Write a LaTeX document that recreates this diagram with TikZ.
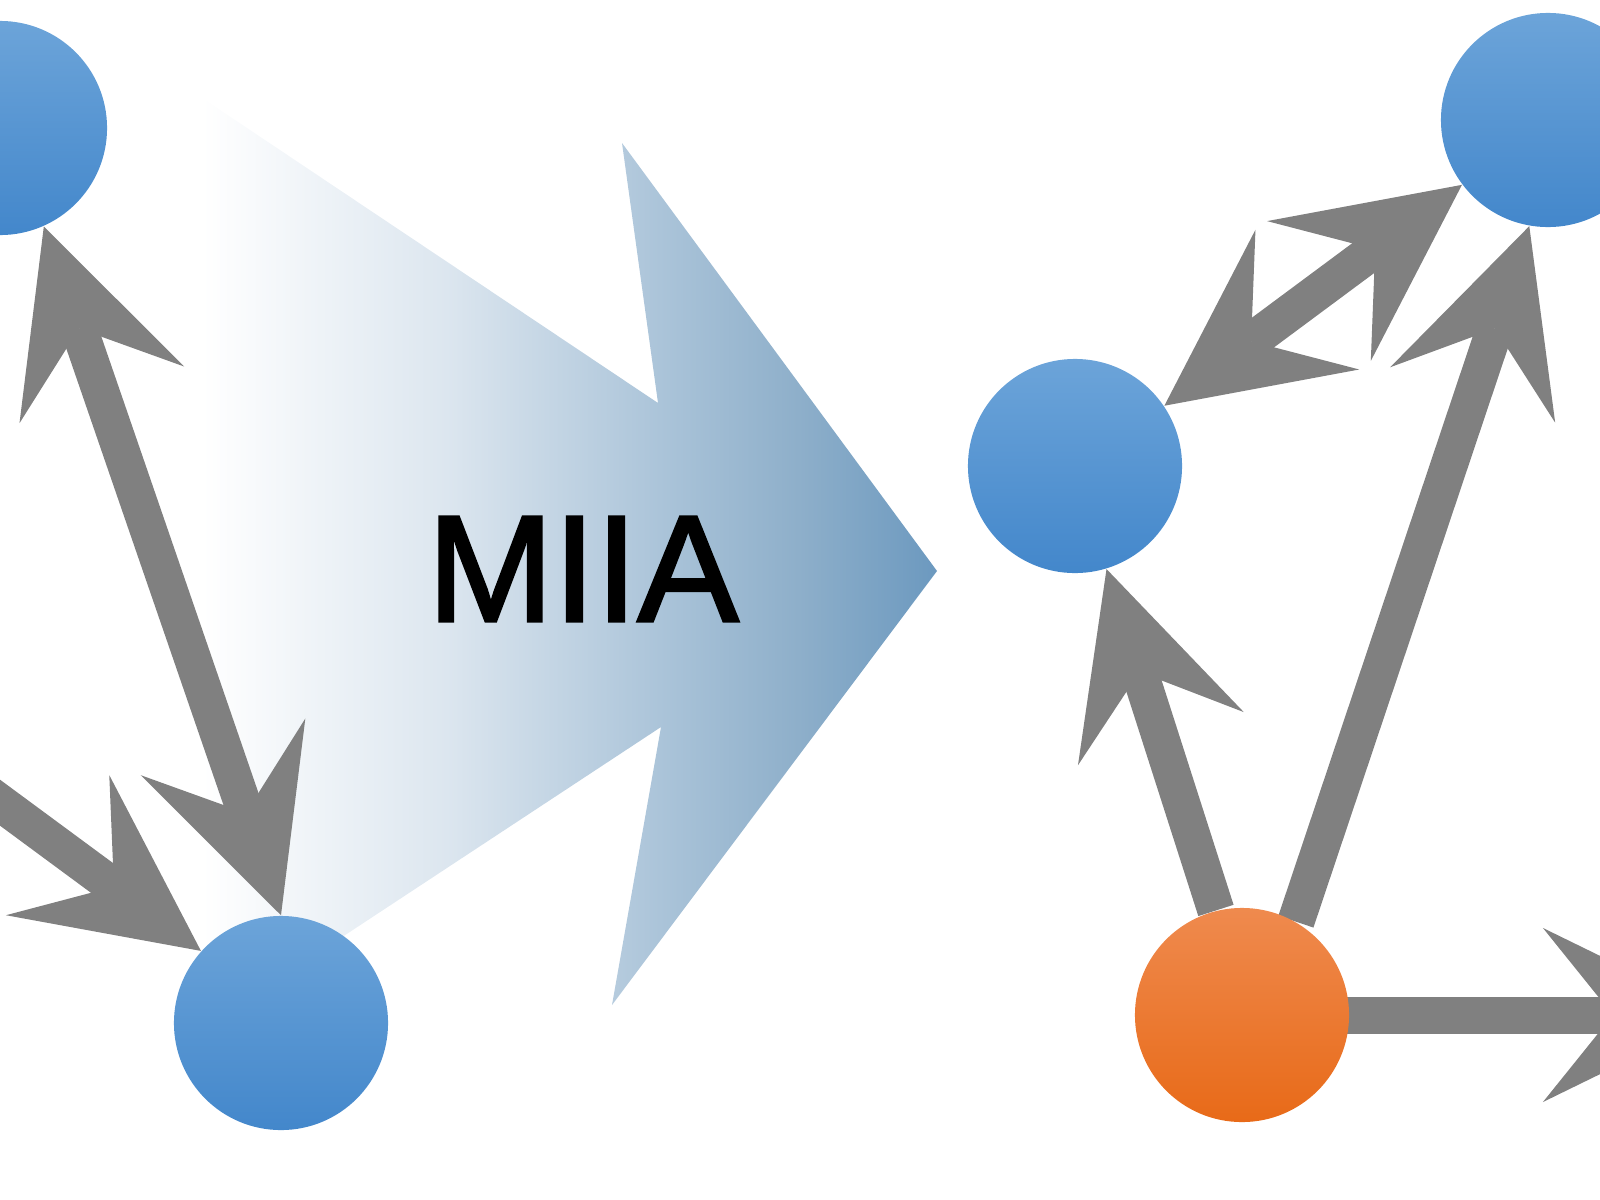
\documentclass[tikz,border=0pt]{standalone}
\usepackage{fontspec}
\setmainfont{Liberation Sans}
\newfontfamily\miiafont[FakeBold=2]{Liberation Sans}
\usetikzlibrary{arrows.meta}
\definecolor{edgegray}{HTML}{808080}
\definecolor{bluetop}{HTML}{6CA4D9}
\definecolor{bluebot}{HTML}{4387CB}
\definecolor{orangetop}{HTML}{EF8A4E}
\definecolor{orangebot}{HTML}{E86A18}
\definecolor{shA}{HTML}{DCE6EF}
\definecolor{shB}{HTML}{ABC4D9}
\definecolor{shC}{HTML}{8EAFCA}
\definecolor{shD}{HTML}{6C99BF}
\pgfdeclarehorizontalshading{miiashade}{100bp}{color(0bp)=(white); color(25bp)=(white); color(30bp)=(white); color(45bp)=(shA); color(58bp)=(shB); color(66.5bp)=(shC); color(75bp)=(shD); color(100bp)=(shD)}
\pgfdeclarelayer{bg}
\pgfdeclarelayer{edges}
\pgfsetlayers{bg,edges,main}
\begin{document}
\begin{tikzpicture}[x=0.01cm,y=-0.01cm,
  >={Stealth[length=1.78cm,width=1.74cm,inset=0.7cm,line width=0pt]},
  ball/.style={circle, minimum size=2.14cm, inner sep=0pt, draw=none},
  blueball/.style={ball, top color=bluetop, bottom color=bluebot},
  orangeball/.style={ball, top color=orangetop, bottom color=orangebot},
  link/.style={draw=edgegray, fill=none, line width=0.37cm},
  bigarrow/.style={shading=miiashade, draw=none}]
\useasboundingbox (0,0) rectangle (1600,1200);
% nodes
\node[blueball] (TL) at (0,128) {};
\node[blueball] (BL) at (281,1023) {};
\node[blueball] (MR) at (1075,466) {};
\node[blueball] (TR) at (1548,120) {};
\node[orangeball] (OR) at (1242,1015) {};
\node[font=\miiafont\fontsize{43}{43}\selectfont, text=black, inner sep=0pt] (label) at (583,569) {MIIA};
\coordinate (Lin) at (-150,692);
\coordinate (Rout) at (1721,1015);
% big transition arrow
\begin{pgfonlayer}{bg}
  \clip (0,0) rectangle (1600,1200);
  \shade[bigarrow] (120,43) -- (658,403) -- (622,143) -- (937,571) -- (612,1005) -- (661,727) -- (122,1082) -- cycle;
\end{pgfonlayer}
% connectors
\begin{pgfonlayer}{edges}
  \clip (0,0) rectangle (1600,1200);
  \draw[link,<->] (TL.-66) -- (BL.90);
  \draw[link,->] (Lin) -- (BL.138);
  \draw[link,<->] (MR.34) -- (TR.217);
  \draw[link,->] (OR.60) -- (TR.-100);
  \draw[link,->] (OR.104) -- (MR.-73);
  \draw[link,->] (OR.center) -- (Rout);
\end{pgfonlayer}
\end{tikzpicture}
\end{document}
